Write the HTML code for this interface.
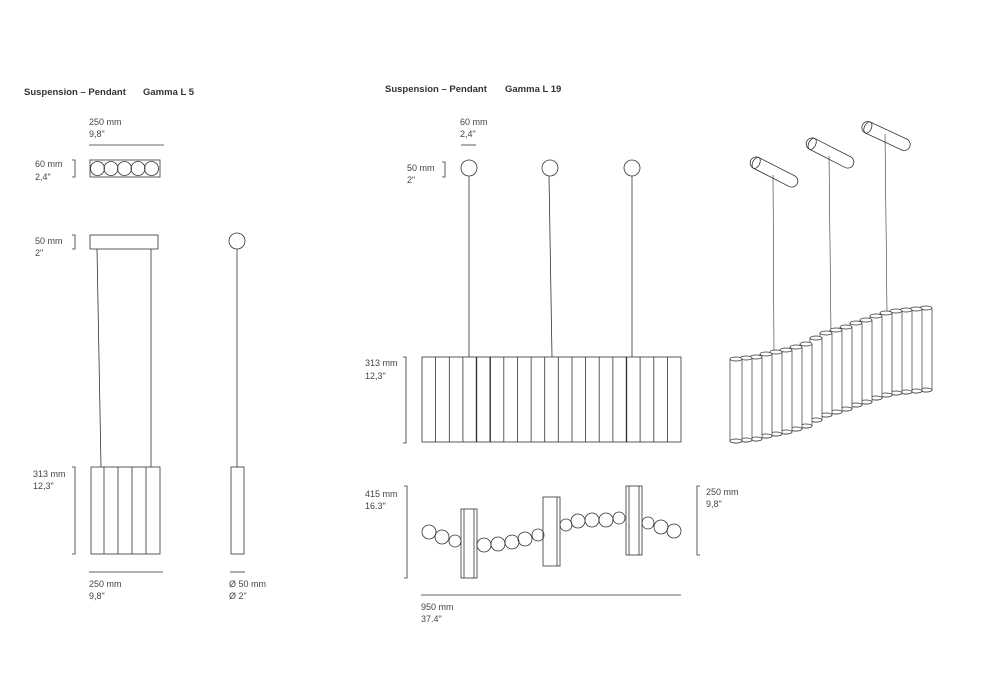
<!DOCTYPE html>
<html><head><meta charset="utf-8"><style>
html,body{margin:0;padding:0;background:#fff;}
svg{display:block;}
text{font-family:"Liberation Sans",sans-serif;font-size:9px;fill:#444;}
.t{font-weight:bold;font-size:9.5px;fill:#333;}
</style></head><body>
<svg width="1000" height="700" viewBox="0 0 1000 700" xmlns="http://www.w3.org/2000/svg">
<g fill="none" stroke="#333" stroke-width="0.8">
<!-- LEFT PANEL -->
<line x1="89" y1="145" x2="164" y2="145"/>
<path d="M72 160h3v17h-3"/>
<rect x="90" y="160" width="70" height="17"/>
<circle cx="97.5" cy="168.5" r="7"/><circle cx="111" cy="168.5" r="7"/><circle cx="124.5" cy="168.5" r="7"/><circle cx="138" cy="168.5" r="7"/><circle cx="151.5" cy="168.5" r="7"/>
<path d="M72 235h3v14h-3"/>
<rect x="90" y="235" width="68" height="14"/>
<line x1="97" y1="249" x2="101" y2="467"/>
<line x1="151" y1="249" x2="151" y2="467"/>
<rect x="91" y="467" width="69" height="87"/>
<line x1="104" y1="467" x2="104" y2="554"/><line x1="118" y1="467" x2="118" y2="554"/><line x1="132" y1="467" x2="132" y2="554"/><line x1="146" y1="467" x2="146" y2="554"/>
<path d="M72 467h3v87h-3"/>
<line x1="89" y1="572" x2="163" y2="572"/>
<circle cx="237" cy="241" r="8"/>
<line x1="237" y1="249" x2="237" y2="467"/>
<rect x="231" y="467" width="13" height="87"/>
<line x1="230" y1="572" x2="245" y2="572"/>
<!-- RIGHT PANEL -->
<line x1="461" y1="145" x2="476" y2="145"/>
<path d="M442 162h3v15h-3"/>
<circle cx="469" cy="168" r="8"/><circle cx="550" cy="168" r="8"/><circle cx="632" cy="168" r="8"/>
<line x1="469" y1="176" x2="469" y2="357"/>
<line x1="549" y1="176" x2="552" y2="357"/>
<line x1="632" y1="176" x2="632" y2="357"/>
<rect x="422" y="357" width="259" height="85"/>
<g>
<line x1="435.6" y1="357" x2="435.6" y2="442"/><line x1="449.3" y1="357" x2="449.3" y2="442"/><line x1="462.9" y1="357" x2="462.9" y2="442"/><line x1="476.5" y1="357" x2="476.5" y2="442" stroke-width="1.4"/><line x1="490.2" y1="357" x2="490.2" y2="442" stroke-width="1.4"/><line x1="503.8" y1="357" x2="503.8" y2="442"/><line x1="517.4" y1="357" x2="517.4" y2="442"/><line x1="531.1" y1="357" x2="531.1" y2="442"/><line x1="544.7" y1="357" x2="544.7" y2="442"/><line x1="558.3" y1="357" x2="558.3" y2="442"/><line x1="572" y1="357" x2="572" y2="442"/><line x1="585.6" y1="357" x2="585.6" y2="442"/><line x1="599.2" y1="357" x2="599.2" y2="442"/><line x1="612.9" y1="357" x2="612.9" y2="442"/><line x1="626.5" y1="357" x2="626.5" y2="442" stroke-width="1.4"/><line x1="640.1" y1="357" x2="640.1" y2="442"/><line x1="653.8" y1="357" x2="653.8" y2="442"/><line x1="667.4" y1="357" x2="667.4" y2="442"/>
</g>
<path d="M403 357h3v86h-3"/>
<path d="M404 486h3v92h-3"/>
<path d="M700 486h-3v69h3"/>
<rect x="461" y="509" width="16" height="69"/><line x1="464" y1="509" x2="464" y2="578"/><line x1="474" y1="509" x2="474" y2="578"/>
<rect x="543" y="497" width="17" height="69"/><line x1="557" y1="497" x2="557" y2="566"/>
<rect x="626" y="486" width="16" height="69"/><line x1="629" y1="486" x2="629" y2="555"/><line x1="639" y1="486" x2="639" y2="555"/>
<circle cx="429" cy="532" r="7"/><circle cx="442" cy="537" r="7"/><circle cx="455" cy="541" r="6"/>
<circle cx="484" cy="545" r="7"/><circle cx="498" cy="544" r="7"/><circle cx="512" cy="542" r="7"/><circle cx="525" cy="539" r="7"/><circle cx="538" cy="535" r="6"/>
<circle cx="566" cy="525" r="6"/><circle cx="578" cy="521" r="7"/><circle cx="592" cy="520" r="7"/><circle cx="606" cy="520" r="7"/><circle cx="619" cy="518" r="6"/>
<circle cx="648" cy="523" r="6"/><circle cx="661" cy="527" r="7"/><circle cx="674" cy="531" r="7"/>
<line x1="421" y1="595" x2="681" y2="595"/>
<!-- ISO canopies -->
<g transform="translate(774 172) rotate(27)"><rect x="-26" y="-6" width="52" height="12" rx="6"/><ellipse cx="-20" cy="0" rx="3.5" ry="6"/></g>
<g transform="translate(830 153) rotate(27)"><rect x="-26" y="-6" width="52" height="12" rx="6"/><ellipse cx="-20" cy="0" rx="3.5" ry="6"/></g>
<g transform="translate(886 136) rotate(25)"><rect x="-26" y="-6" width="52" height="12" rx="6"/><ellipse cx="-20" cy="0" rx="3.5" ry="6"/></g>
<line x1="773" y1="175" x2="774" y2="352" stroke-width="0.6"/>
<line x1="829" y1="156" x2="831" y2="332" stroke-width="0.6"/>
<line x1="885" y1="134" x2="887" y2="312" stroke-width="0.6"/>
<!-- ISO tubes -->
<g fill="#fff" stroke-width="0.7">
<path d="M920 308v82a6 2 0 0 0 12 0v-82"/><ellipse cx="926" cy="308" rx="6" ry="2"/><ellipse cx="926" cy="390" rx="6" ry="2"/>
<path d="M910 309v82a6 2 0 0 0 12 0v-82"/><ellipse cx="916" cy="309" rx="6" ry="2"/><ellipse cx="916" cy="391" rx="6" ry="2"/>
<path d="M900 310v82a6 2 0 0 0 12 0v-82"/><ellipse cx="906" cy="310" rx="6" ry="2"/><ellipse cx="906" cy="392" rx="6" ry="2"/>
<path d="M890 311v82a6 2 0 0 0 12 0v-82"/><ellipse cx="896" cy="311" rx="6" ry="2"/><ellipse cx="896" cy="393" rx="6" ry="2"/>
<path d="M880 313v82a6 2 0 0 0 12 0v-82"/><ellipse cx="886" cy="313" rx="6" ry="2"/><ellipse cx="886" cy="395" rx="6" ry="2"/>
<path d="M870 316v82a6 2 0 0 0 12 0v-82"/><ellipse cx="876" cy="316" rx="6" ry="2"/><ellipse cx="876" cy="398" rx="6" ry="2"/>
<path d="M860 320v82a6 2 0 0 0 12 0v-82"/><ellipse cx="866" cy="320" rx="6" ry="2"/><ellipse cx="866" cy="402" rx="6" ry="2"/>
<path d="M850 323v82a6 2 0 0 0 12 0v-82"/><ellipse cx="856" cy="323" rx="6" ry="2"/><ellipse cx="856" cy="405" rx="6" ry="2"/>
<path d="M840 327v82a6 2 0 0 0 12 0v-82"/><ellipse cx="846" cy="327" rx="6" ry="2"/><ellipse cx="846" cy="409" rx="6" ry="2"/>
<path d="M830 330v82a6 2 0 0 0 12 0v-82"/><ellipse cx="836" cy="330" rx="6" ry="2"/><ellipse cx="836" cy="412" rx="6" ry="2"/>
<path d="M820 333v82a6 2 0 0 0 12 0v-82"/><ellipse cx="826" cy="333" rx="6" ry="2"/><ellipse cx="826" cy="415" rx="6" ry="2"/>
<path d="M810 338v82a6 2 0 0 0 12 0v-82"/><ellipse cx="816" cy="338" rx="6" ry="2"/><ellipse cx="816" cy="420" rx="6" ry="2"/>
<path d="M800 344v82a6 2 0 0 0 12 0v-82"/><ellipse cx="806" cy="344" rx="6" ry="2"/><ellipse cx="806" cy="426" rx="6" ry="2"/>
<path d="M790 347v82a6 2 0 0 0 12 0v-82"/><ellipse cx="796" cy="347" rx="6" ry="2"/><ellipse cx="796" cy="429" rx="6" ry="2"/>
<path d="M780 350v82a6 2 0 0 0 12 0v-82"/><ellipse cx="786" cy="350" rx="6" ry="2"/><ellipse cx="786" cy="432" rx="6" ry="2"/>
<path d="M770 352v82a6 2 0 0 0 12 0v-82"/><ellipse cx="776" cy="352" rx="6" ry="2"/><ellipse cx="776" cy="434" rx="6" ry="2"/>
<path d="M760 354v82a6 2 0 0 0 12 0v-82"/><ellipse cx="766" cy="354" rx="6" ry="2"/><ellipse cx="766" cy="436" rx="6" ry="2"/>
<path d="M750 357v82a6 2 0 0 0 12 0v-82"/><ellipse cx="756" cy="357" rx="6" ry="2"/><ellipse cx="756" cy="439" rx="6" ry="2"/>
<path d="M740 358v82a6 2 0 0 0 12 0v-82"/><ellipse cx="746" cy="358" rx="6" ry="2"/><ellipse cx="746" cy="440" rx="6" ry="2"/>
<path d="M730 359v82a6 2 0 0 0 12 0v-82"/><ellipse cx="736" cy="359" rx="6" ry="2"/><ellipse cx="736" cy="441" rx="6" ry="2"/>
</g>
</g>
<!-- TEXT -->
<text class="t" x="24" y="95">Suspension – Pendant</text><text class="t" x="143" y="95">Gamma L 5</text>
<text x="89" y="125">250 mm</text><text x="89" y="137">9,8"</text>
<text x="35" y="167">60 mm</text><text x="35" y="180">2,4"</text>
<text x="35" y="244">50 mm</text><text x="35" y="256">2"</text>
<text x="33" y="477">313 mm</text><text x="33" y="489">12,3"</text>
<text x="89" y="587">250 mm</text><text x="89" y="599">9,8"</text>
<text x="229" y="587">Ø 50 mm</text><text x="229" y="599">Ø 2"</text>
<text class="t" x="385" y="92">Suspension – Pendant</text><text class="t" x="505" y="92">Gamma L 19</text>
<text x="460" y="125">60 mm</text><text x="460" y="137">2,4"</text>
<text x="407" y="171">50 mm</text><text x="407" y="183">2"</text>
<text x="365" y="366">313 mm</text><text x="365" y="379">12,3"</text>
<text x="365" y="497">415 mm</text><text x="365" y="509">16.3"</text>
<text x="706" y="495">250 mm</text><text x="706" y="507">9,8"</text>
<text x="421" y="610">950 mm</text><text x="421" y="622">37.4"</text>
</svg>
</body></html>
